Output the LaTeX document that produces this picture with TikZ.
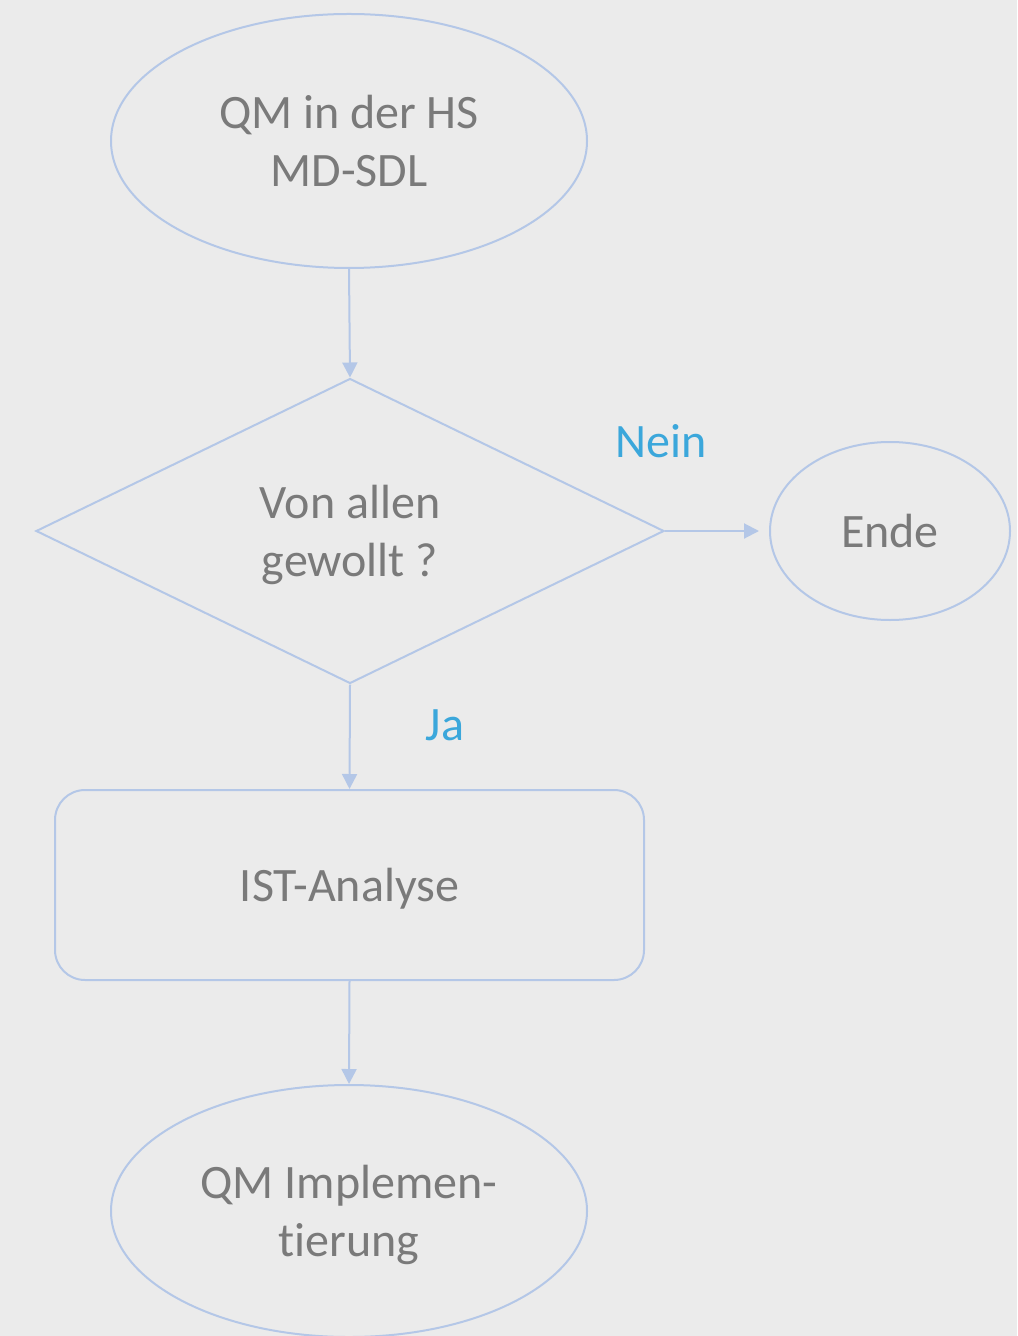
\documentclass[tikz,border=0pt]{standalone}
\usepackage{fontspec}
\setmainfont{Carlito}[Ligatures=NoCommon]
\usetikzlibrary{shapes.geometric,arrows.meta}
\definecolor{hintergrund}{HTML}{EBEBEB}
\definecolor{linienblau}{HTML}{B4C7E7}
\definecolor{textgrau}{HTML}{7A7A7A}
\definecolor{labelblau}{HTML}{3BA7DB}

\begin{document}
\begin{tikzpicture}[x=0.5pt, y=-0.5pt, line width=1pt,
    node font=\fontsize{24}{29}\selectfont,
    rand/.style={draw=linienblau, text=textgrau, inner sep=0pt, align=center, text depth=0pt},
    pfeil/.style={draw=linienblau, -{Triangle[length=7.5pt,width=7.5pt]}},
    antwort/.style={text=labelblau}]
	\fill[hintergrund] (0,0) rectangle (1017,1336);
	\useasboundingbox (0,0) rectangle (1017,1336);
	% Knoten
	\node[rand, ellipse, minimum width=238pt, minimum height=127pt] (start) at (349,141) {QM in der HS\\MD-SDL};
	\node[rand, diamond, minimum width=314pt, minimum height=152.5pt] (frage) at (350,531) {Von allen\\gewollt ?};
	\node[rand, ellipse, minimum width=120pt, minimum height=89pt] (ende) at (890,531) {Ende};
	\node[rand, rounded corners=15pt, minimum width=294.5pt, minimum height=95pt] (ist) at (349.5,885) {IST-Analyse};
	\node[rand, ellipse, minimum width=238pt, minimum height=126pt] (qm) at (349,1211) {QM Implemen-\\tierung};
	% Pfeile
	\draw[pfeil] (start.south) -- (frage.north);
	\draw[pfeil, shorten >=5pt] (frage.east) -- (ende.west);
	\draw[pfeil] (frage.south) -- (ist.north);
	\draw[pfeil] (ist.south) -- (qm.north);
	% Beschriftungen
	\node[antwort] (nein) at (661,441) {Nein};
	\node[antwort] (ja) at (445,725) {Ja};
\end{tikzpicture}
\end{document}
